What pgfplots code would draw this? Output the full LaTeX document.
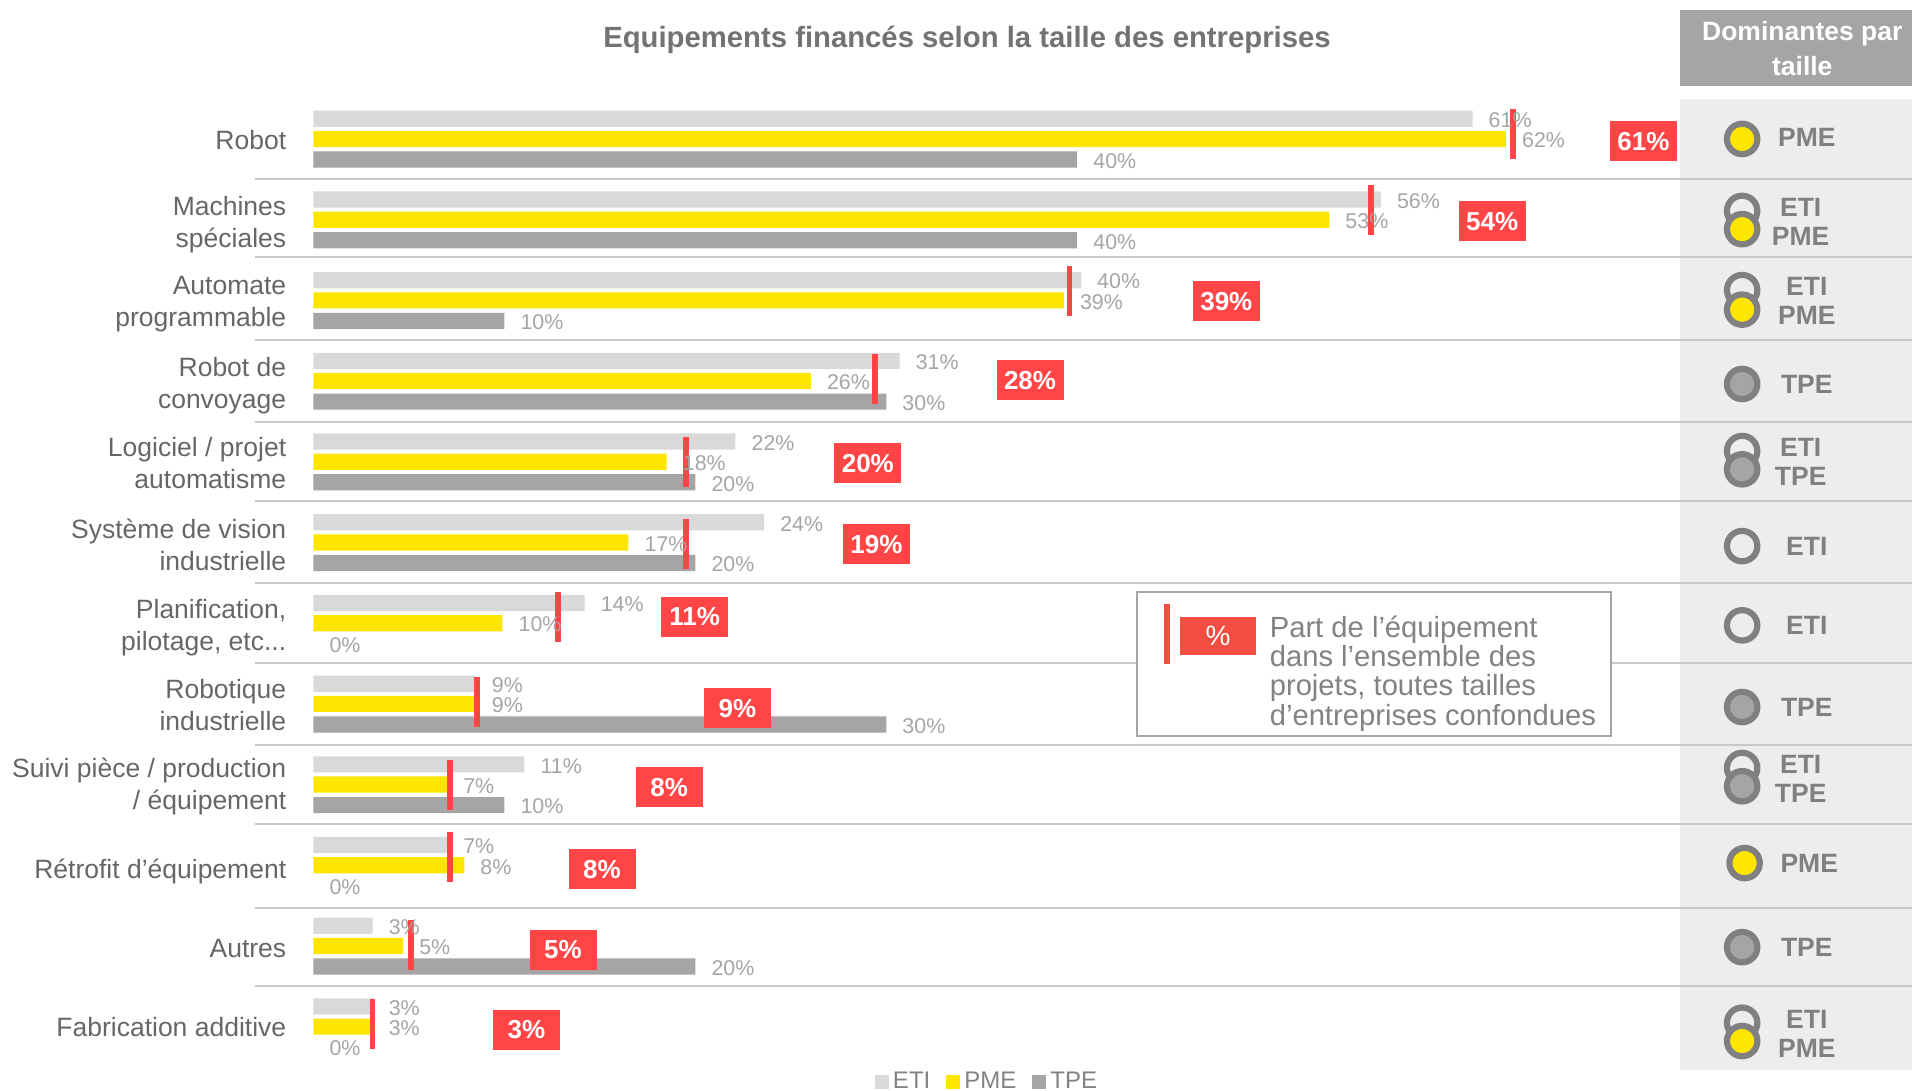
\documentclass[border=0pt]{standalone}
\usepackage{fontspec}
\setmainfont{Liberation Sans}
\usepackage{pgfplots}
\usepackage{pgfplotstable}
\pgfplotsset{compat=1.18}
\definecolor{cETI}{HTML}{D9D9D9}
\definecolor{cPME}{HTML}{FFE600}
\definecolor{cTPE}{HTML}{A5A5A5}
\definecolor{cRed}{HTML}{FF4545}
\definecolor{cRed2}{HTML}{F24E42}
\definecolor{cRing}{HTML}{808082}
\definecolor{cPanel}{HTML}{EDEDED}
\definecolor{cSep}{HTML}{C8C8C8}
\definecolor{cTxt}{HTML}{666666}
\definecolor{cNote}{HTML}{808285}
\pgfplotstableread{
row eti leti pme lpme tpe ltpe
0  60.7 61 62.45 62 40 40
1  55.9 56 53.2  53 40 40
2  40.2 40 39.3  39 10 10
3  30.7 31 26.05 26 30 30
4  22.1 22 18.5  18 20 20
5  23.6 24 16.5  17 20 20
6  14.2 14 9.9   10 nan 0
7  8.5  9  8.5   9  30 30
8  11.05 11 7.0  7  10 10
9  7.0  7  7.9   8  nan 0
10 3.1  3  4.7   5  20 20
11 3.1  3  3.1   3  nan 0
}\data
\pgfplotstableread{
x y label
0 6.255 0
0 9.255 0
0 11.255 0
}\zeros
\pgfplotstableread{
x y
62.8 -0.06
55.4 0.876
39.6 1.88
29.4 2.976
19.5 4.0
19.5 5.015
12.8 5.92
8.56 6.98
7.15 8.0
7.15 8.9
5.1 9.985
3.1 10.97
}\redmarks
\pgfplotstableread{
x y label
1347 116 61
1223 181.5 54
1005 247 39
844 312 28
711 380 20
718 446.5 19
569 506 11
604 581 9
548 646 8
493 713 8
461 779 5
431 845 3
}\redlabels
\pgfplotstableread{
x y
1428 173
1428 238
1428 370
1428 448
1428 513
1428 630
1428 839
}\ringETI
\pgfplotstableread{
x y
1428 114
1428 188
1428 254
1430 708
1428 854
}\ringPME
\pgfplotstableread{
x y
1428 315
1428 385
1428 580
1428 645
1428 777
}\ringTPE
\pgfplotstableread{
x y label
1481 113 PME
1476 170 ETI
1476 194 PME
1481 235 ETI
1481 259 PME
1481 315 TPE
1476 367 ETI
1476 391 TPE
1481 448 ETI
1481 513 ETI
1481 580 TPE
1476 627 ETI
1476 651 TPE
1483 708 PME
1481 777 TPE
1481 836 ETI
1481 860 PME
}\ringtext
\begin{document}
\begin{tikzpicture}
\useasboundingbox (0,0) rectangle (956pt,545.5pt);
\begin{scope}[x=0.6097pt,y=-0.6095pt,shift={(0pt,545.5pt)}]
  \fill[cPanel] (1378,81) rectangle (1568,878);
  \fill[cTPE] (1378,8.5) rectangle (1568,70.5);
  \node[font=\fontsize{13.25}{17.5}\selectfont\bfseries,text=white,align=center] at (1478,39.5) {Dominantes par\\taille};
  \node[font=\fontsize{14.64}{17}\selectfont\bfseries,text=cRing!90!black] at (793,32.5) {Equipements financés selon la taille des entreprises};
  \foreach \s in {147,211,279,346,411,478,544,611,676,745,809}
    \draw[cSep,line width=1pt] (209,\s) -- (1568,\s);
  \draw[cTPE,line width=1pt,fill=white] (932.5,486) rectangle (1321,603.5);
  \fill[cRed2] (954.5,495.5) rectangle (959.5,545);
  \fill[cRed2] (968,506) rectangle (1030,537);
  \node[font=\fontsize{14}{17}\selectfont,text=white] at (999,521.5) {\%};
  \node[font=\fontsize{14.6}{14.7}\selectfont,text=cNote,align=left,anchor=west,inner sep=0pt] at (1041,552.5) {Part de l’équipement\\dans l’ensemble des\\projets, toutes tailles\\d’entreprises confondues};
\end{scope}
\begin{axis}[
  at={(156.7pt,0pt)},anchor=south west,
  scale only axis,width=799.3pt,height=545.5pt,
  xmin=0,xmax=83.716,ymin=-1.7221,ymax=11.7976,y dir=reverse,
  clip=false,hide x axis,
  axis line style={draw=none},major tick length=0pt,
  xbar,bar width=8.1pt,bar shift=0pt,
  ytick={0.015,1.06,2.045,3.06,4.02,5.03,6.05,7.015,8.03,9.075,10.03,11},
  yticklabels={Robot,{Machines\\spéciales},{Automate\\programmable},{Robot de\\convoyage},{Logiciel / projet\\automatisme},{Système de vision\\industrielle},{Planification,\\pilotage, etc{.}{.}{.}},{Robotique\\industrielle},{Suivi pièce / production\\/ équipement},{Rétrofit d’équipement},Autres,{Fabrication additive}},
  yticklabel style={font=\fontsize{13.25}{16}\selectfont,text=cTxt,align=right,inner sep=0pt,xshift=-13.4pt},
  nodes near coords={\pgfplotspointmeta\%},
  point meta=explicit symbolic,
  every node near coord/.append style={font=\fontsize{10.7}{12}\selectfont,text=cTPE,anchor=west,inner sep=0pt,xshift=7.9pt,yshift=-0.7pt},
  legend image code/.code={\path[#1,draw=none] (0pt,-3.6pt) rectangle (7pt,3.6pt);},
  legend style={at={(0.422,0.0085)},anchor=center,draw=none,fill=none,inner sep=0pt,legend columns=3,font=\fontsize{12}{13}\selectfont,text=cNote,/tikz/every even column/.append style={column sep=6pt}},
]
\addplot[fill=cETI,draw=none] table[x=eti,y expr=\thisrow{row}-0.25,meta=leti]{\data};
\addlegendentry{ETI}
\addplot[fill=cPME,draw=none] table[x=pme,y=row,meta=lpme]{\data};
\addlegendentry{PME}
\addplot[fill=cTPE,draw=none] table[x=tpe,y expr=\thisrow{row}+0.255,meta=ltpe]{\data};
\addlegendentry{TPE}
\addplot[sharp plot,draw=none,mark=none,forget plot] table[x=x,y=y,meta=label]{\zeros};
\addplot[sharp plot,draw=none,mark=none,forget plot,nodes near coords={},
  error bars/.cd,y dir=both,y fixed=0.31,error mark=none,
  error bar style={draw=cRed,line width=2.9pt}] table[x=x,y=y,meta=x]{\redmarks};
\end{axis}
\begin{axis}[
  at={(0pt,0pt)},anchor=south west,
  scale only axis,width=956pt,height=545.5pt,
  xmin=-0.7,xmax=1567.3,ymin=0,ymax=895,y dir=reverse,
  clip=false,hide axis,
]
\addplot[only marks,mark=*,mark size=7.6pt,mark options={draw=cRing,line width=3.1pt,fill=cPanel}] table[x=x,y=y]{\ringETI};
\addplot[only marks,mark=*,mark size=7.6pt,mark options={draw=cRing,line width=3.1pt,fill=cPME}] table[x=x,y=y]{\ringPME};
\addplot[only marks,mark=*,mark size=7.6pt,mark options={draw=cRing,line width=3.1pt,fill=cTPE}] table[x=x,y=y]{\ringTPE};
\addplot[only marks,mark=none,point meta=explicit symbolic,
  nodes near coords={\pgfplotspointmeta},
  every node near coord/.append style={anchor=center,inner sep=0pt,font=\fontsize{13.25}{15}\selectfont\bfseries,text=cRing}] table[x=x,y=y,meta=label]{\ringtext};
\addplot[only marks,mark=none,point meta=explicit symbolic,
  nodes near coords={\pgfplotspointmeta\%},
  every node near coord/.append style={anchor=center,inner sep=0pt,minimum width=33.5pt,minimum height=20pt,fill=cRed,font=\fontsize{13}{15}\selectfont\bfseries,text=white}] table[x=x,y=y,meta=label]{\redlabels};
\end{axis}
\end{tikzpicture}
\end{document}
